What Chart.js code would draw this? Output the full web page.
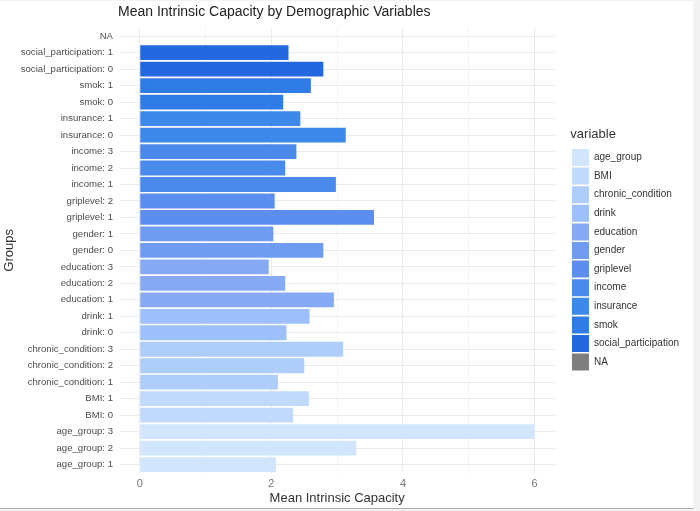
<!DOCTYPE html>
<html>
<head>
<meta charset="utf-8">
<script src="https://cdn.jsdelivr.net/npm/chart.js@4"></script>
<style>
  html, body { margin: 0; padding: 0; background: #f3f3f3; }
  #frame { position: absolute; left: 0; top: 1px; width: 693px; height: 507px; background: #fff; border-bottom: 1px solid #aaa; }
  #chart { display: block; }
</style>
</head>
<body>
<div id="frame"><canvas id="chart" width="693" height="507"></canvas></div>
<script>
// top to bottom, as in the picture
const groups = [
    'NA',
    'social_participation: 1', 'social_participation: 0',
    'smok: 1', 'smok: 0',
    'insurance: 1', 'insurance: 0',
    'income: 3', 'income: 2', 'income: 1',
    'griplevel: 2', 'griplevel: 1',
    'gender: 1', 'gender: 0',
    'education: 3', 'education: 2', 'education: 1',
    'drink: 1', 'drink: 0',
    'chronic_condition: 3', 'chronic_condition: 2', 'chronic_condition: 1',
    'BMI: 1', 'BMI: 0',
    'age_group: 3', 'age_group: 2', 'age_group: 1'
];
const groupVariable = [
    'NA',
    'social_participation', 'social_participation',
    'smok', 'smok',
    'insurance', 'insurance',
    'income', 'income', 'income',
    'griplevel', 'griplevel',
    'gender', 'gender',
    'education', 'education', 'education',
    'drink', 'drink',
    'chronic_condition', 'chronic_condition', 'chronic_condition',
    'BMI', 'BMI',
    'age_group', 'age_group', 'age_group'
];
const meanCapacity = [
    null,
    2.26, 2.79,
    2.60, 2.18,
    2.44, 3.13,
    2.38, 2.21, 2.98,
    2.05, 3.56,
    2.03, 2.79,
    1.96, 2.21, 2.95,
    2.58, 2.23,
    3.09, 2.50, 2.10,
    2.57, 2.33,
    6.00, 3.29, 2.07
];
const variables = ['age_group', 'BMI', 'chronic_condition', 'drink', 'education', 'gender',
    'griplevel', 'income', 'insurance', 'smok', 'social_participation', 'NA'];
const variableColors = ['#d1e5fc', '#c1d9fb', '#afcdfb', '#9dc0fa', '#87aaf5', '#6f9bf0',
    '#5b8eee', '#4a8aeb', '#3c89eb', '#2f7ce6', '#2468e0', '#7f7f7f'];
const xTicks = [0, 1, 2, 3, 4, 5, 6];

const FONT = '"Liberation Sans", Arial, sans-serif';
const colorOf = v => variableColors[variables.indexOf(v)];

// ggplot-style title, left aligned with the panel
const titlePlugin = {
    id: 'leftTitle',
    afterDraw(chart) {
        const c = chart.ctx;
        c.save();
        c.font = '14px ' + FONT;
        c.fillStyle = '#222';
        c.textBaseline = 'middle';
        c.fillText('Mean Intrinsic Capacity by Demographic Variables', 118, 11);
        c.restore();
    }
};

// leave a gap between panel and legend, and nudge legend up a bit
const legendGap = {
    id: 'legendGap',
    beforeUpdate(chart) {
        const lg = chart.legend;
        if (lg && !lg._gapPatched) {
            const fit = lg.fit;
            lg.fit = function () { fit.call(this); this.width += 16; };
            lg._gapPatched = true;
        }
    },
    afterLayout(chart) {
        const lg = chart.legend;
        lg.left += 16; lg.right += 16;
        lg.top -= 18; lg.bottom -= 18;
    }
};

const ctx = document.getElementById('chart').getContext('2d');

new Chart(ctx, {
    type: 'bar',
    data: {
        labels: groups,
        datasets: [{
            label: 'Mean Intrinsic Capacity',
            data: meanCapacity,
            backgroundColor: groupVariable.map(colorOf),
            barPercentage: 0.9,
            categoryPercentage: 1.0
        }]
    },
    plugins: [titlePlugin, legendGap],
    options: {
        indexAxis: 'y',
        responsive: false,
        animation: false,
        layout: { padding: { top: 27, left: 0, right: 4, bottom: 0 } },
        plugins: {
            tooltip: { enabled: false },
            legend: {
                position: 'right',
                title: {
                    display: true,
                    text: 'variable',
                    position: 'start',
                    color: '#333',
                    font: { size: 13, family: FONT },
                    padding: { top: 0, bottom: 4 }
                },
                labels: {
                    boxWidth: 17,
                    boxHeight: 17,
                    padding: 1.6,
                    color: '#4d4d4d',
                    font: { size: 10, family: FONT },
                    generateLabels: () => variables.map((v, i) => ({
                        text: v,
                        fillStyle: variableColors[i],
                        strokeStyle: variableColors[i],
                        lineWidth: 0
                    }))
                },
                onClick: null
            }
        },
        scales: {
            x: {
                min: -0.3,
                max: 6.3,
                afterBuildTicks: scale => { scale.ticks = xTicks.map(v => ({ value: v })); },
                grid: {
                    color: ctx => (ctx.tick && ctx.tick.value % 2 === 0) ? '#ebebeb' : '#f3f3f3',
                    lineWidth: 1,
                    drawTicks: false
                },
                border: { display: false },
                ticks: {
                    color: '#777',
                    font: { size: 11, family: FONT, lineHeight: 1 },
                    padding: 5.6,
                    callback: v => (v % 2 === 0 ? String(v) : '')
                },
                title: {
                    display: true,
                    text: 'Mean Intrinsic Capacity',
                    color: '#333',
                    font: { size: 13, family: FONT, lineHeight: 1 },
                    padding: { top: -3, bottom: 3 }
                }
            },
            y: {
                afterFit: scale => { scale.width = 120; },
                grid: { color: '#ebebeb', offset: false, drawTicks: false },
                border: { display: false },
                ticks: {
                    color: '#4d4d4d',
                    font: { size: 9.6, family: FONT },
                    padding: 7,
                    autoSkip: false
                },
                title: {
                    display: true,
                    text: 'Groups',
                    color: '#333',
                    font: { size: 13, family: FONT },
                    padding: { top: 2, bottom: 0 }
                }
            }
        }
    }
});
</script>
</body>
</html>
